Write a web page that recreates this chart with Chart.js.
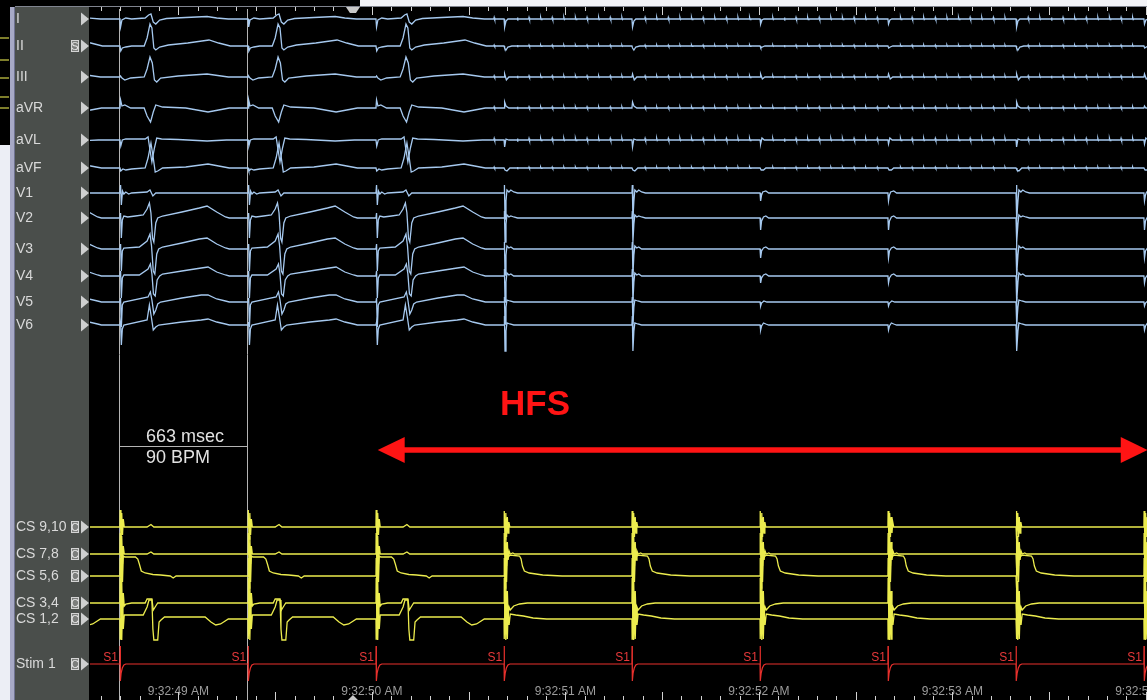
<!DOCTYPE html>
<html>
<head>
<meta charset="utf-8">
<title>HFS recording</title>
<script src="https://cdn.jsdelivr.net/npm/chart.js@4.4.1/dist/chart.umd.min.js"></script>
<style>
  html, body { margin: 0; padding: 0; background: #000; overflow: hidden; }
  canvas { display: block; }
</style>
</head>
<body>
<canvas id="epChart" width="1147" height="700"></canvas>
<script>
// channels, top to bottom, and the level each one sits at (display units, 0 = top)
const channelNames = ["I", "II", "III", "aVR", "aVL", "aVF", "V1", "V2", "V3", "V4", "V5", "V6",
  "CS 9,10", "CS 7,8", "CS 5,6", "CS 3,4", "CS 1,2", "Stim 1"];
const channelBase = [19, 46, 77, 108, 140, 168, 193, 218, 249, 276, 302, 325, 527, 554, 576, 603, 619, 664];
const channelBadge = ["", "S", "", "", "", "", "", "", "", "", "", "", "C", "C", "C", "C", "C", "C"];

// time in seconds after 9:32:00
const xMin = 48.543;
const xMax = 54.006;
const secondTicks = [49, 50, 51, 52, 53, 54];
const timeLabels = ["9:32:49 AM", "9:32:50 AM", "9:32:51 AM", "9:32:52 AM", "9:32:53 AM", "9:32:54 AM"];

// S1 pacing times (first one is the beat just before the window)
const stimTimes = [48.037, 48.698, 49.360, 50.021, 50.683, 51.344, 52.006, 52.667, 53.329, 53.990];
const beatKind = ["pre", "pre", "pre", "pre", "big", "big", "small", "small", "big", "small"];

const caliperTimes = [48.693, 49.356];
const hfsArrow = [50.03, 54.01];
const hfsLabelTime = 50.843;

// beat shapes: [ms after S1, amplitude up]
const ecgPre = [
  [[0,0],[3,-8],[10,-1],[30,1],[60,0],[130,1],[148,4],[160,5],[172,-3],[185,-5],[205,-1],[240,0.5],[340,1.5],[450,2.5],[500,1],[560,0]],
  [[0,0],[4,-5],[12,-2],[30,-1],[60,0],[125,0],[140,8],[155,22],[165,18],[175,-2],[185,-4],[205,-1],[250,1],[350,3],[460,6],[510,3],[570,0]],
  [[0,0],[3,1],[10,-1],[25,-3],[55,-1],[125,0],[140,8],[155,20],[167,14],[178,-3],[190,-5],[210,-1],[300,1],[450,3],[560,0]],
  [[0,0],[3,8],[10,2],[25,3],[55,0],[125,0],[140,-8],[158,-14],[172,-4],[185,3],[220,1],[340,0],[455,-4],[510,-2],[565,0]],
  [[0,0],[4,-6],[12,0],[30,1],[130,1],[145,3],[155,-10],[165,-22],[178,-8],[190,2],[215,1],[300,0.5],[450,-1],[550,0]],
  [[0,0],[4,-3],[15,-1],[30,-2],[60,-1],[130,0],[145,10],[160,25],[172,10],[182,-4],[195,-3],[220,0],[340,1],[455,4],[510,2],[565,0]],
  [[0,0],[3,8],[7,-12],[13,2],[20,-1],[30,1],[45,-1],[60,0],[140,1],[155,3],[170,-3],[185,0]],
  [[0,0],[3,5],[7,-20],[12,-2],[20,2],[40,1],[80,2],[120,3],[140,9],[152,15],[160,5],[168,-20],[175,-24],[185,-5],[195,0],[220,2],[320,6],[410,10],[450,12],[500,6],[545,1],[565,0]],
  [[0,0],[3,5],[7,-22],[12,-2],[20,1],[100,2],[140,8],[155,15],[163,3],[172,-22],[180,-25],[190,-5],[200,0],[220,2],[320,6],[410,10],[450,11],[500,5],[545,1],[565,0]],
  [[0,0],[3,5],[7,-22],[12,-2],[20,1],[100,1],[145,7],[157,12],[165,2],[173,-18],[182,-20],[192,-4],[205,0],[220,2],[320,5],[420,8],[455,9],[500,4],[545,1],[565,0]],
  [[0,0],[3,4],[7,-25],[12,-3],[20,0],[145,5],[157,10],[165,2],[175,-12],[185,-8],[195,-2],[210,0],[320,4],[420,7],[455,7],[500,3],[545,1],[565,0]],
  [[0,0],[3,3],[7,-20],[12,-4],[20,0],[140,5],[152,20],[162,8],[172,-5],[185,-2],[200,0],[320,3],[420,5],[455,6],[500,3],[545,1],[565,0]]
];
const ecgBig = [
  [[0,0],[3,-8],[10,-2],[20,0]],
  [[0,0],[3,-2],[10,-4],[20,-1],[40,0]],
  [[0,0],[3,3],[12,-3],[25,0]],
  [[0,0],[3,6],[10,2],[25,0]],
  [[0,0],[3,-7],[10,1],[25,0]],
  [[0,0],[5,-2],[15,-3],[30,0]],
  [[0,0],[2,8],[5,-26],[10,-8],[15,3],[25,1],[35,3],[50,1],[70,0]],
  [[0,0],[2,7],[5,-24],[10,-6],[15,3],[25,1],[35,2],[50,1],[70,0]],
  [[0,0],[2,7],[5,-26],[10,-6],[15,3],[25,1],[35,2],[50,0]],
  [[0,0],[2,7],[5,-26],[10,-6],[15,3],[25,1],[35,2],[50,0]],
  [[0,0],[2,5],[5,-22],[10,-5],[15,2],[30,1],[50,0]],
  [[0,0],[2,9],[5,-26],[10,-6],[15,2],[30,1],[50,0]]
];
const ecgSmall = [
  [[0,0],[3,-5],[10,-1],[20,0]],
  [[0,0],[4,-2],[12,-1],[25,0]],
  [[0,0],[3,3],[12,-2],[25,0]],
  [[0,0],[3,2],[10,0]],
  [[0,0],[3,-4],[10,2],[22,0]],
  [[0,0],[6,-2],[18,-2],[30,0]],
  [[0,0],[3,-8],[8,-2],[14,1],[30,2],[45,0]],
  [[0,0],[3,-12],[8,-3],[18,1],[30,2],[45,0]],
  [[0,0],[3,-9],[8,-2],[18,1],[30,2],[45,0]],
  [[0,0],[3,-7],[8,-2],[18,1],[30,2],[45,0]],
  [[0,0],[3,-4],[8,-1],[20,1],[35,0]],
  [[0,0],[3,-5],[8,-1],[18,2],[30,1],[45,0]]
];
const csPre = [
  [[0,0],[1,17],[5,-12],[9,14],[13,-8],[17,8],[22,0],[140,0],[160,2.5],[175,0]],
  [[0,0],[1,21],[5,-14],[9,18],[13,-10],[17,8],[22,0],[140,0],[160,2],[175,0]],
  [[0,0],[1,18],[5,-12],[9,22],[13,-6],[17,20],[25,19],[80,19],[92,17],[100,12],[110,5],[130,3],[170,1.5],[210,1],[260,0],[275,-2],[290,0]],
  [[0,0],[1,25],[5,-18],[9,22],[13,-20],[17,10],[22,-3],[30,-1],[60,0],[130,0],[140,4],[165,4],[172,-7],[185,-3],[195,0]],
  [[0,0],[1,-20],[5,18],[9,-21],[13,12],[17,-10],[22,4],[30,4],[120,4],[140,12],[150,19],[165,19],[170,-10],[175,-21],[195,-21],[202,-3],[212,-1],[230,2],[440,2],[470,-3],[495,-6],[520,-5],[560,0]]
];
const csPost = [
  [[0,0],[1,16],[5,-12],[9,14],[13,-10],[17,10],[21,-6],[25,5],[30,0]],
  [[0,0],[1,21],[5,-14],[9,18],[13,-12],[17,12],[21,-6],[26,3],[32,0],[45,1],[55,0]],
  [[0,0],[1,18],[5,-12],[9,22],[13,-6],[17,21],[22,19],[30,21],[80,20],[88,17],[95,10],[105,5],[130,3],[200,1],[300,0]],
  [[0,0],[1,25],[5,-18],[9,22],[13,-20],[17,12],[21,-12],[26,-4],[32,-7],[50,-3],[80,-1],[120,0]],
  [[0,0],[1,-20],[5,18],[9,-21],[13,15],[17,-20],[21,8],[26,-6],[32,5],[60,4],[100,3],[150,1],[220,0]]
];
const stimPulse = [[0,0],[0.5,18],[2,-17],[6,-9],[12,-4],[20,-1],[30,0]];

// HFS pickup on the limb leads
const hfsStart = 50.03;
const hfsPeriod = 0.06;
const hfsNoiseAmp = [1.6, 1.0, 1.2, 1.2, 1.6, 1.0];
const hfsSpike = [[0,0],[2,1],[5,-0.4],[9,0]];

const FONT = "'Liberation Sans', Arial, sans-serif";

function templateFor(ch, kind) {
  if (ch < 12) return kind === "pre" ? ecgPre[ch] : kind === "big" ? ecgBig[ch] : ecgSmall[ch];
  if (ch < 17) return kind === "pre" ? csPre[ch - 12] : csPost[ch - 12];
  return stimPulse;
}

function buildTrace(ch) {
  const base = channelBase[ch];
  const pts = [{ x: xMin - 0.6, y: base }, { x: xMax + 0.6, y: base }];
  const busy = [];
  stimTimes.forEach((t, b) => {
    const tpl = templateFor(ch, beatKind[b]);
    tpl.forEach(([ms, amp]) => pts.push({ x: t + ms / 1000, y: base - amp }));
    busy.push([t - 0.004, t + tpl[tpl.length - 1][0] / 1000 + 0.004]);
  });
  if (ch < 6) {
    const len = hfsSpike[hfsSpike.length - 1][0] / 1000;
    for (let s = hfsStart; s < xMax + 0.05; s += hfsPeriod) {
      if (busy.some(([a, z]) => s + len > a && s < z)) continue;
      hfsSpike.forEach(([ms, f]) => pts.push({ x: s + ms / 1000, y: base - f * hfsNoiseAmp[ch] }));
    }
  }
  pts.sort((a, b) => a.x - b.x);
  return pts;
}

function traceColor(ch) {
  if (ch < 12) return "#a6c9ef";
  if (ch < 17) return "#ecec4e";
  return "#e8302c";
}

const epDecor = {
  id: "epDecor",
  beforeDraw(chart) {
    const c = chart.ctx;
    c.save();
    c.fillStyle = "#000";
    c.fillRect(0, 0, chart.width, chart.height);
    c.fillStyle = "#eceef5";
    c.fillRect(0, 145, 10, 555);
    c.strokeStyle = "#a9a93a";
    c.lineWidth = 1.5;
    [38, 60, 78, 97, 108].forEach(v => {
      c.beginPath(); c.moveTo(0, v); c.lineTo(9, v); c.stroke();
    });
    c.fillStyle = "#a7a9c6";
    c.fillRect(10, 7, 5, 693);
    c.fillStyle = "#6f7291";
    c.fillRect(14, 7, 1, 693);
    c.fillStyle = "#4a4e4b";
    c.fillRect(15, 7, 74, 693);
    c.restore();
  },
  beforeDatasetsDraw(chart) {
    const { ctx: c, scales: { x, y } } = chart;
    c.save();
    // channel markers in the side panel
    channelBase.forEach((v, i) => {
      const py = y.getPixelForValue(v);
      c.fillStyle = "#cfd0d0";
      c.beginPath(); c.moveTo(81, py - 6.5); c.lineTo(89, py); c.lineTo(81, py + 6.5); c.closePath(); c.fill();
      if (channelBadge[i]) {
        c.fillStyle = "#7c7e7c";
        c.fillRect(71, py - 6, 8, 12);
        c.strokeStyle = "#d4d4d4";
        c.lineWidth = 1;
        c.strokeRect(71.5, py - 5.5, 7, 11);
        c.fillStyle = "#e6e6e6";
        c.font = "11px " + FONT;
        c.textAlign = "center";
        c.textBaseline = "middle";
        c.fillText(channelBadge[i], 75, py + 0.5);
      }
    });
    // calipers
    const c0 = Math.round(x.getPixelForValue(caliperTimes[0])) + 0.5;
    const c1 = Math.round(x.getPixelForValue(caliperTimes[1])) + 0.5;
    c.strokeStyle = "#b4b4b4";
    c.lineWidth = 1;
    c.beginPath();
    c.moveTo(c0, y.getPixelForValue(9)); c.lineTo(c0, y.getPixelForValue(700));
    c.moveTo(c1, y.getPixelForValue(9)); c.lineTo(c1, y.getPixelForValue(700));
    const hy = Math.round(y.getPixelForValue(446)) + 0.5;
    c.moveTo(c0, hy); c.lineTo(c1, hy);
    c.stroke();
    c.restore();
  },
  afterDatasetsDraw(chart) {
    const { ctx: c, scales: { x, y } } = chart;
    c.save();
    // S1 marks
    c.font = "12px " + FONT;
    c.fillStyle = "#e8383a";
    c.textAlign = "right";
    c.textBaseline = "middle";
    stimTimes.forEach(t => {
      const px = x.getPixelForValue(t);
      if (px > 95) c.fillText("S1", px - 2, y.getPixelForValue(658));
    });
    // caliper readout
    const ms = Math.round((caliperTimes[1] - caliperTimes[0]) * 1000);
    const c0 = x.getPixelForValue(caliperTimes[0]);
    c.font = "18px " + FONT;
    c.fillStyle = "#e2e2e2";
    c.textAlign = "left";
    c.fillText(ms + " msec", c0 + 27, y.getPixelForValue(437));
    c.fillText(Math.floor(60000 / ms) + " BPM", c0 + 27, y.getPixelForValue(458));
    // HFS arrow
    const a0 = x.getPixelForValue(hfsArrow[0]);
    const a1 = x.getPixelForValue(hfsArrow[1]);
    const ay = y.getPixelForValue(450);
    c.strokeStyle = "#ff1414";
    c.fillStyle = "#ff1414";
    c.lineWidth = 5.5;
    c.beginPath(); c.moveTo(a0 + 20, ay); c.lineTo(a1 - 20, ay); c.stroke();
    c.beginPath(); c.moveTo(a0, ay); c.lineTo(a0 + 27, ay - 13); c.lineTo(a0 + 27, ay + 13); c.closePath(); c.fill();
    c.beginPath(); c.moveTo(a1, ay); c.lineTo(a1 - 27, ay - 13); c.lineTo(a1 - 27, ay + 13); c.closePath(); c.fill();
    c.font = "bold 35px " + FONT;
    c.textAlign = "center";
    c.fillText("HFS", x.getPixelForValue(hfsLabelTime), y.getPixelForValue(405));
    c.restore();
  },
  afterDraw(chart) {
    const { ctx: c, scales: { x } } = chart;
    c.save();
    c.fillStyle = "#f2f3f7";
    c.fillRect(360, 0, chart.width - 360, 6);
    c.fillStyle = "#80848f";
    c.fillRect(15, 6, chart.width - 15, 1);
    // time rulers, 0.1 s steps
    c.strokeStyle = "#d2d2d2";
    c.lineWidth = 1;
    c.beginPath();
    for (let k = 486; k <= 540; k++) {
      const px = Math.round(x.getPixelForValue(k / 10)) + 0.5;
      const major = k % 5 === 0;
      c.moveTo(px, 7); c.lineTo(px, major ? 15 : 11);
      c.moveTo(px, major ? 692 : 696); c.lineTo(px, 700);
    }
    c.stroke();
    // view marker
    const mx = x.getPixelForValue(49.902);
    c.fillStyle = "#c9c9c9";
    c.beginPath(); c.moveTo(mx - 7, 7); c.lineTo(mx + 7, 7); c.lineTo(mx + 3, 13); c.lineTo(mx - 3, 13); c.closePath(); c.fill();
    c.beginPath(); c.moveTo(mx - 5, 700); c.lineTo(mx, 695); c.lineTo(mx + 5, 700); c.closePath(); c.fill();
    c.restore();
  }
};

document.addEventListener("DOMContentLoaded", () => {
  const ctx = document.getElementById("epChart").getContext("2d");

  new Chart(ctx, {
    type: "line",
    data: {
      datasets: channelNames.map((name, ch) => ({
        label: name,
        data: buildTrace(ch),
        borderColor: traceColor(ch),
        borderWidth: ch === 17 ? 1.2 : 1.3,
        pointRadius: 0,
        tension: 0
      }))
    },
    options: {
      responsive: false,
      animation: false,
      devicePixelRatio: 1,
      events: [],
      layout: { padding: { left: 16, top: 0, right: 0, bottom: 0 } },
      plugins: {
        legend: { display: false },
        tooltip: { enabled: false }
      },
      scales: {
        x: {
          type: "linear",
          min: xMin,
          max: xMax,
          afterBuildTicks: s => { s.ticks = secondTicks.map(v => ({ value: v })); },
          afterFit: s => { s.height = 18; s.paddingLeft = 0; s.paddingRight = 0; },
          grid: { display: false, drawTicks: false },
          border: { display: false },
          ticks: {
            autoSkip: false,
            maxRotation: 0,
            padding: 2,
            color: "#9c9c9c",
            font: { family: FONT, size: 12 },
            callback: v => timeLabels[secondTicks.indexOf(v)]
          }
        },
        y: {
          type: "linear",
          reverse: true,
          min: 0,
          max: 682,
          afterBuildTicks: s => { s.ticks = channelBase.map(v => ({ value: v })); },
          afterFit: s => { s.width = 74; s.paddingTop = 0; s.paddingBottom = 0; },
          grid: { display: false, drawTicks: false },
          border: { display: false },
          ticks: {
            autoSkip: false,
            crossAlign: "far",
            padding: 0,
            color: "#d9d9d9",
            font: { family: FONT, size: 14 },
            callback: v => channelNames[channelBase.indexOf(v)]
          }
        }
      }
    },
    plugins: [epDecor]
  });
});
</script>
</body>
</html>
